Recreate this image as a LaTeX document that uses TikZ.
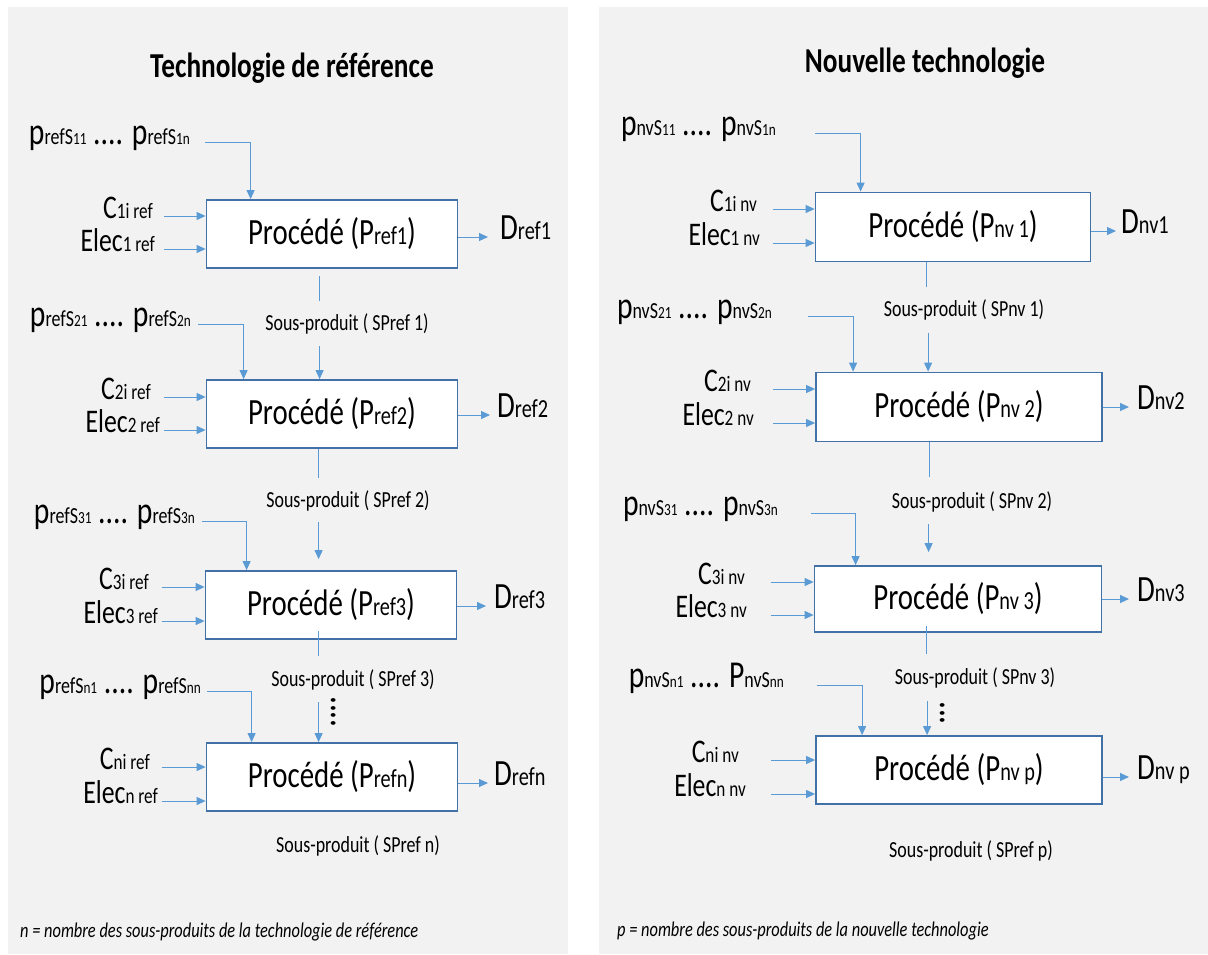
\documentclass[tikz,border=0pt]{standalone}
\usepackage{fontspec}
\setmainfont{Carlito}[FakeStretch=0.78]
\definecolor{panel}{RGB}{242, 242, 242}
\definecolor{boxblue}{RGB}{65, 113, 166}
\definecolor{lineblue}{RGB}{91, 155, 213}
\usetikzlibrary{arrows.meta, positioning, calc}
\newcommand{\subtxt}[2][22]{{\fontsize{#1}{#1}\selectfont #2}}
\tikzset{
  procbox/.style={draw=boxblue, line width=1.8pt, fill=white, minimum width=251pt,
    minimum height=68pt, inner sep=0pt, font=\fontsize{37}{37}\selectfont},
  flow/.style={draw=lineblue, line width=1pt, -{Triangle[length=9pt, width=8pt]}},
  link/.style={draw=lineblue, line width=1pt},
  inlbl/.style={anchor=mid east, inner sep=0pt, font=\fontsize{33}{33}\selectfont},
  plbl/.style={inlbl, font=\fontsize{38}{38}\selectfont},
  outlbl/.style={anchor=mid west, inner sep=0pt, font=\fontsize{37}{37}\selectfont},
  splbl/.style={inner sep=0pt, font=\fontsize{23}{23}\selectfont},
}

\begin{document}
\begin{tikzpicture}[x=1pt, y=-1pt]
  \useasboundingbox (0,0) rectangle (1208,954);
  \fill[white] (0,0) rectangle (1208,954);
  \fill[panel] (8,7) rectangle (568,954);
  \fill[panel] (599,7) rectangle (1208,954);

  % technologie de reference
  \node[font=\bfseries\fontsize{35}{35}\selectfont] (rtitle) at (292,68) {Technologie de référence};

  \node[procbox] (rP1) at (332,234) {Procédé (P\subtxt[26]{ref1})};
  \node[procbox] (rP2) at (332,414) {Procédé (P\subtxt[26]{ref2})};
  \node[procbox] (rP3) at (331,605) {Procédé (P\subtxt[26]{ref3})};
  \node[procbox] (rPn) at (332,777) {Procédé (P\subtxt[26]{refn})};

  \node[plbl] (rS1) at (190,142) {p\subtxt[23]{refS}\subtxt[17]{11} .... p\subtxt[23]{refS}\subtxt[17]{1n}};
  \node[plbl] (rS2) at (191,324) {p\subtxt[23]{refS}\subtxt[17]{21} .... p\subtxt[23]{refS}\subtxt[17]{2n}};
  \node[plbl] (rS3) at (195,521) {p\subtxt[23]{refS}\subtxt[17]{31} .... p\subtxt[23]{refS}\subtxt[17]{3n}};
  \node[plbl] (rSn) at (201,691) {p\subtxt[23]{refS}\subtxt[17]{n1} .... p\subtxt[23]{refS}\subtxt[17]{nn}};

  \node[inlbl] (rC1) at (153,216) {C\subtxt{1i ref}};
  \node[inlbl] (rE1) at (155,249) {Elec\subtxt{1 ref}};
  \node[inlbl] (rC2) at (151,397) {C\subtxt{2i ref}};
  \node[inlbl] (rE2) at (160,430) {Elec\subtxt{2 ref}};
  \node[inlbl] (rC3) at (149,587) {C\subtxt{3i ref}};
  \node[inlbl] (rE3) at (158,621) {Elec\subtxt{3 ref}};
  \node[inlbl] (rCn) at (150,767) {C\subtxt{ni ref}};
  \node[inlbl] (rEn) at (158,801) {Elec\subtxt{n ref}};

  \node[outlbl] (rD1) at (500,237) {D\subtxt[26]{ref1}};
  \node[outlbl] (rD2) at (497,415) {D\subtxt[26]{ref2}};
  \node[outlbl] (rD3) at (494,606) {D\subtxt[26]{ref3}};
  \node[outlbl] (rDn) at (494,783) {D\subtxt[26]{refn}};

  \node[splbl] (rSP1) at (347,324) {Sous-produit ( SPref 1)};
  \node[splbl] (rSP2) at (348,501) {Sous-produit ( SPref 2)};
  \node[splbl] (rSP3) at (353,680) {Sous-produit ( SPref 3)};
  \node[splbl] (rSPn) at (358,846) {Sous-produit ( SPref n)};
  \node[rotate=-90, inner sep=0pt, font=\fontsize{40}{40}\selectfont] (rdots) at (334,712) {....};

  \draw[flow] ([xshift=15pt]rS1.mid east) -| ([xshift=45pt]rP1.north west);
  \draw[flow] ([xshift=7pt]rS2.mid east) -| ([xshift=38pt]rP2.north west);
  \draw[flow] ([xshift=7pt]rS3.mid east) -| ([xshift=42pt]rP3.north west);
  \draw[flow] ([xshift=6pt]rSn.mid east) -| ([xshift=46pt]rPn.north west);

  \draw[flow] ($(rP1.west |- rC1.mid)+(-42,0)$) -- (rP1.west |- rC1.mid);
  \draw[flow] ($(rP1.west |- rE1.mid)+(-42,0)$) -- (rP1.west |- rE1.mid);
  \draw[flow] ($(rP2.west |- rC2.mid)+(-42,0)$) -- (rP2.west |- rC2.mid);
  \draw[flow] ($(rP2.west |- rE2.mid)+(-42,0)$) -- (rP2.west |- rE2.mid);
  \draw[flow] ($(rP3.west |- rC3.mid)+(-43,0)$) -- (rP3.west |- rC3.mid);
  \draw[flow] ($(rP3.west |- rE3.mid)+(-43,0)$) -- (rP3.west |- rE3.mid);
  \draw[flow] ($(rPn.west |- rCn.mid)+(-44,0)$) -- (rPn.west |- rCn.mid);
  \draw[flow] ($(rPn.west |- rEn.mid)+(-44,0)$) -- (rPn.west |- rEn.mid);

  \draw[flow] (rP1.east |- rD1.mid) -- ([xshift=-12pt]rD1.mid west);
  \draw[flow] (rP2.east |- rD2.mid) -- ([xshift=-7pt]rD2.mid west);
  \draw[flow] (rP3.east |- rD3.mid) -- ([xshift=-8pt]rD3.mid west);
  \draw[flow] (rPn.east |- rDn.mid) -- ([xshift=-6pt]rDn.mid west);

  % sous-produits
  \draw[link] ([xshift=114pt,yshift=-7pt]rP1.south west) -- ++(0,25);
  \draw[link] ([xshift=113pt]rP2.south west) -- ++(0,29);
  \draw[link] ([xshift=114pt,yshift=9pt]rP3.south west) -- ++(0,25);
  \draw[flow] ([xshift=114pt,yshift=33pt]rP2.north west) -- ([xshift=114pt]rP2.north west);
  \draw[flow] ([xshift=114pt,yshift=48pt]rP3.north west) -- ([xshift=114pt,yshift=11pt]rP3.north west);
  \draw[flow] ([xshift=113pt,yshift=40pt]rPn.north west) -- ([xshift=113pt]rPn.north west);

  \node[anchor=mid west, inner sep=0pt, font=\itshape\fontsize{21}{21}\selectfont] (rnote) at (20,935)
    {n = nombre des sous-produits de la technologie de référence};

  % nouvelle technologie
  \node[font=\bfseries\fontsize{35}{35}\selectfont] (ntitle) at (925,63) {Nouvelle technologie};

  \node[procbox, minimum width=275pt, minimum height=69pt] (nP1) at (953,227) {Procédé (P\subtxt[26]{nv 1})};
  \node[procbox, minimum width=286pt, minimum height=69pt] (nP2) at (959,407) {Procédé (P\subtxt[26]{nv 2})};
  \node[procbox, minimum width=287pt, minimum height=66pt] (nP3) at (958,599) {Procédé (P\subtxt[26]{nv 3})};
  \node[procbox, minimum width=286pt] (nPp) at (959,770) {Procédé (P\subtxt[26]{nv p})};

  \node[plbl] (nS1) at (776,133) {p\subtxt[23]{nvS}\subtxt[17]{11} .... p\subtxt[23]{nvS}\subtxt[17]{1n}};
  \node[plbl] (nS2) at (772,316) {p\subtxt[23]{nvS}\subtxt[17]{21} .... p\subtxt[23]{nvS}\subtxt[17]{2n}};
  \node[plbl] (nS3) at (778,513) {p\subtxt[23]{nvS}\subtxt[17]{31} .... p\subtxt[23]{nvS}\subtxt[17]{3n}};
  \node[plbl] (nSn) at (784,685) {p\subtxt[23]{nvS}\subtxt[17]{n1} .... P\subtxt[23]{nvS}\subtxt[17]{nn}};

  \node[inlbl] (nC1) at (757,209) {C\subtxt{1i nv}};
  \node[inlbl] (nE1) at (760,243) {Elec\subtxt{1 nv}};
  \node[inlbl] (nC2) at (751,389) {C\subtxt{2i nv}};
  \node[inlbl] (nE2) at (754,423) {Elec\subtxt{2 nv}};
  \node[inlbl] (nC3) at (745,582) {C\subtxt{3i nv}};
  \node[inlbl] (nE3) at (747,615) {Elec\subtxt{3 nv}};
  \node[inlbl] (nCn) at (739,760) {C\subtxt{ni nv}};
  \node[inlbl] (nEn) at (746,794) {Elec\subtxt{n nv}};

  \node[outlbl] (nD1) at (1121,231) {D\subtxt[26]{nv1}};
  \node[outlbl] (nD2) at (1137,407) {D\subtxt[26]{nv2}};
  \node[outlbl] (nD3) at (1137,599) {D\subtxt[26]{nv3}};
  \node[outlbl] (nDp) at (1137,777) {D\subtxt[26]{nv p}};

  \node[splbl] (nSP1) at (964,310) {Sous-produit ( SPnv 1)};
  \node[splbl] (nSP2) at (972,502) {Sous-produit ( SPnv 2)};
  \node[splbl] (nSP3) at (975,678) {Sous-produit ( SPnv 3)};
  \node[splbl] (nSPp) at (971,851) {Sous-produit ( SPref p)};
  \node[rotate=-90, inner sep=0pt, font=\fontsize{40}{40}\selectfont] (ndots) at (943,713) {...};

  \draw[flow] ([xshift=39pt]nS1.mid east) -| ([xshift=46pt]nP1.north west);
  \draw[flow] ([xshift=36pt]nS2.mid east) -| ([xshift=38pt]nP2.north west);
  \draw[flow] ([xshift=33pt]nS3.mid east) -| ([xshift=42pt]nP3.north west);
  \draw[flow] ([xshift=33pt]nSn.mid east) -| ([xshift=47pt]nPp.north west);

  \draw[flow] ($(nP1.west |- nC1.mid)+(-42,0)$) -- (nP1.west |- nC1.mid);
  \draw[flow] ($(nP1.west |- nE1.mid)+(-42,0)$) -- (nP1.west |- nE1.mid);
  \draw[flow] ($(nP2.west |- nC2.mid)+(-42,0)$) -- (nP2.west |- nC2.mid);
  \draw[flow] ($(nP2.west |- nE2.mid)+(-42,0)$) -- (nP2.west |- nE2.mid);
  \draw[flow] ($(nP3.west |- nC3.mid)+(-43,0)$) -- (nP3.west |- nC3.mid);
  \draw[flow] ($(nP3.west |- nE3.mid)+(-43,0)$) -- (nP3.west |- nE3.mid);
  \draw[flow] ($(nPp.west |- nCn.mid)+(-44,0)$) -- (nPp.west |- nCn.mid);
  \draw[flow] ($(nPp.west |- nEn.mid)+(-44,0)$) -- (nPp.west |- nEn.mid);

  \draw[flow] (nP1.east |- nD1.mid) -- ([xshift=-5pt]nD1.mid west);
  \draw[flow] (nP2.east |- nD2.mid) -- ([xshift=-8pt]nD2.mid west);
  \draw[flow] (nP3.east |- nD3.mid) -- ([xshift=-8pt]nD3.mid west);
  \draw[flow] (nPp.east |- nDp.mid) -- ([xshift=-8pt]nDp.mid west);

  \draw[link] ([xshift=112pt]nP1.south west) -- ++(0,25);
  \draw[link] ([xshift=114pt]nP2.south west) -- ++(0,35);
  \draw[link] ([xshift=113pt,yshift=7pt]nP3.south west) -- ++(0,28);
  \draw[flow] ([xshift=113pt,yshift=39pt]nP2.north west) -- ([xshift=113pt]nP2.north west);
  \draw[flow] ([xshift=115pt,yshift=41pt]nP3.north west) -- ([xshift=115pt,yshift=13pt]nP3.north west);
  \draw[flow] ([xshift=112pt,yshift=34pt]nPp.north west) -- ([xshift=112pt]nPp.north west);

  \node[anchor=mid west, inner sep=0pt, font=\itshape\fontsize{21}{21}\selectfont] (nnote) at (617,934)
    {p = nombre des sous-produits de la nouvelle technologie};
\end{tikzpicture}
\end{document}
